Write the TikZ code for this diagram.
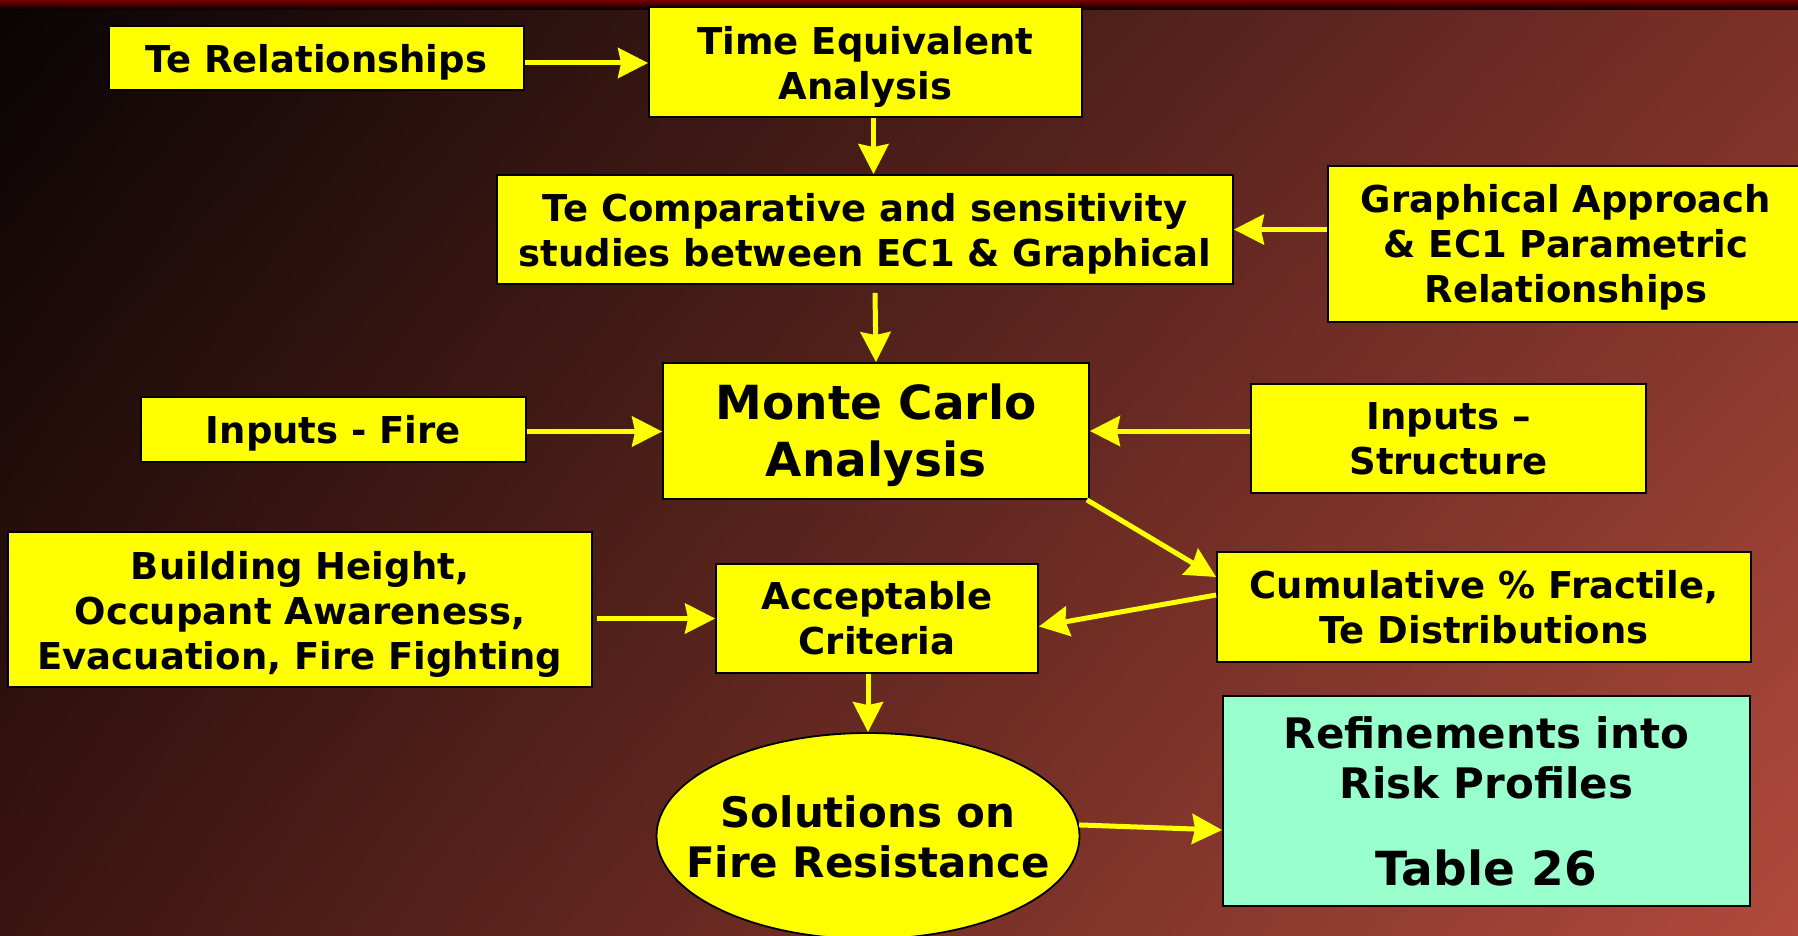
\documentclass[tikz,border=0pt]{standalone}
\usepackage{fontspec}
\setmainfont{DejaVu Sans}
\usetikzlibrary{arrows.meta,shapes.geometric,shadings}
\definecolor{bgUL}{HTML}{080404}
\definecolor{bgUR}{HTML}{7A3028}
\definecolor{bgLL}{HTML}{3A1410}
\definecolor{bgLR}{HTML}{B04A3C}
\definecolor{boxY}{HTML}{FFFF00}
\definecolor{boxG}{HTML}{99FFCC}
\definecolor{barR}{HTML}{780000}
\newcommand{\myup}[1]{\rule{0pt}{#1}}
\begin{document}
\begin{tikzpicture}[x=1pt,y=-1pt,
  ybox/.style={draw=black, line width=1.8pt, fill=boxY, rectangle, inner sep=0pt,
    align=center, text=black, font=\bfseries\fontsize{37}{45}\selectfont},
  bigtxt/.style={font=\bfseries\fontsize{47}{57}\selectfont},
  midtxt/.style={font=\bfseries\fontsize{42}{50}\selectfont},
  arr/.style={draw=boxY, line width=5pt, -{Stealth[length=30pt,width=30pt,inset=3pt]}},
]
\useasboundingbox (0,0) rectangle (1798,936);
\shade[upper left=bgUL, upper right=bgUR, lower left=bgLL, lower right=bgLR] (0,0) rectangle (1798,936);
\shade[top color=barR, bottom color=black] (0,0) rectangle (1798,10);

\node[ybox, minimum width=415pt, minimum height=64pt] (terel) at (316.5,58) {\myup{37pt}Te Relationships};
\node[ybox, minimum width=433pt, minimum height=110pt] (timeeq) at (865.5,62) {\myup{37pt}Time Equivalent\\Analysis};
\node[ybox, minimum width=736pt, minimum height=109pt] (tecomp) at (865,229.5) {\myup{37pt}Te Comparative and sensitivity\\studies between EC1 \& Graphical};
\node[ybox, minimum width=476pt, minimum height=156pt] (graph) at (1566,244) {\myup{35pt}Graphical Approach\\\& EC1 Parametric\\Relationships};
\node[ybox, bigtxt, minimum width=426pt, minimum height=136pt] (mc) at (876,431) {\myup{45pt}Monte Carlo\\Analysis};
\node[ybox, minimum width=385pt, minimum height=65pt] (infire) at (333.5,429.5) {\myup{35pt}Inputs - Fire};
\node[ybox, minimum width=395pt, minimum height=109pt] (instr) at (1448.5,438.5) {Inputs –\\Structure};
\node[ybox, minimum width=584pt, minimum height=155pt] (build) at (300,609.5) {\myup{37pt}Building Height,\\Occupant Awareness,\\Evacuation, Fire Fighting};
\node[ybox, minimum width=322pt, minimum height=109pt] (accept) at (877,618.5) {Acceptable\\Criteria};
\node[ybox, minimum width=534pt, minimum height=110pt] (cum) at (1484,607) {Cumulative \% Fractile,\\Te Distributions};
\node[ybox, ellipse, minimum width=423pt, minimum height=206pt] (sol) at (868,836) {};
\node[midtxt, align=center, text=black, inner sep=0pt] (soltxt) at (868,836.5) {Solutions on\\Fire Resistance};
\node[ybox, fill=boxG, minimum width=527pt, minimum height=210pt] (ref) at (1486.5,801) {};
\node[midtxt, align=center, text=black, inner sep=0pt] (reftxt) at (1486.5,757.5) {Refinements into\\Risk Profiles};
\node[bigtxt, text=black, inner sep=0pt] (reftab) at (1486.5,868) {Table 26};

\draw[arr] ([yshift=-5pt]terel.east) -- ([yshift=-5pt]terel.east -| timeeq.west);
\draw[arr] ([xshift=8pt]timeeq.south) -- ([xshift=8pt]timeeq.south |- tecomp.north);
\draw[arr] ([xshift=10pt,yshift=-8pt]tecomp.south) -- (mc.north);
\draw[arr] (graph.west |- tecomp.east) -- (tecomp.east);
\draw[arr] ([yshift=-2pt]infire.east) -- ([yshift=-2pt]infire.east -| mc.west);
\draw[arr] (instr.west |- mc.east) -- (mc.east);
\draw[arr] ([xshift=-3pt]mc.south east) -- ([yshift=30pt]cum.west);
\draw[arr] ([yshift=12pt]cum.west) -- ([yshift=-8pt]accept.east);
\draw[arr] ([xshift=4pt]build.east |- accept.west) -- (accept.west);
\draw[arr] (accept.south -| sol.north) -- (sol.north);
\draw[arr] (sol.3) -- ([yshift=-29pt]ref.west);
\end{tikzpicture}
\end{document}
